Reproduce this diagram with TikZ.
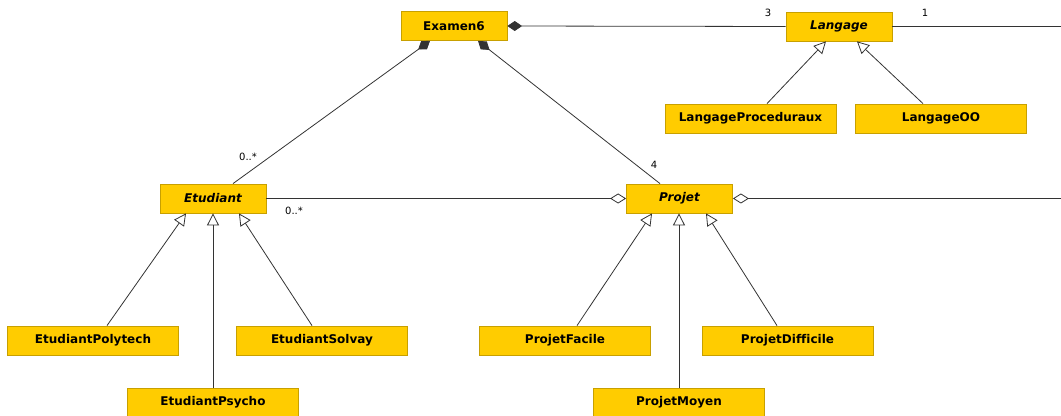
\documentclass[tikz,border=0pt]{standalone}
\usepackage{fontspec}
\setmainfont[Ligatures=NoCommon]{DejaVu Sans}
\usetikzlibrary{positioning}
\usetikzlibrary{calc}
\usetikzlibrary{arrows.meta}
\usetikzlibrary{shadows}
\definecolor{jaune}{RGB}{255,204,0}
\definecolor{bord}{RGB}{200,160,0}

\begin{document}
\begin{tikzpicture}[x=0.75pt,y=-0.75pt,
  classe/.style={draw=bord, fill=jaune, line width=0.6pt, inner sep=0pt,
    minimum height=21.75pt, font=\fontsize{9}{10}\selectfont\bfseries,
    drop shadow={shadow xshift=0.7pt, shadow yshift=-0.7pt, opacity=0.45, fill=black!60}},
  abstraite/.style={classe, font=\fontsize{9}{10}\selectfont\bfseries\itshape},
  petite/.style={minimum width=79.5pt},
  grande/.style={minimum width=128.25pt},
  lien/.style={draw=black!80, line width=0.6pt},
  herite/.style={lien, -{Triangle[open, length=9pt, width=9pt]}},
  compo/.style={lien, {Diamond[length=11pt, width=7.5pt]}-},
  agreg/.style={lien, {Diamond[open, length=12pt, width=7.5pt]}-},
  mult/.style={font=\fontsize{7.5}{8}\selectfont, inner sep=1pt}
]

\useasboundingbox (0,0) rectangle (1061,416);

% right border of the picture
\def\Xbord{1061}

%---------------------------------------
% Classes
%---------------------------------------
\node[classe, petite]    (exam)  at (454,26)    {Examen6};
\node[abstraite, petite] (lang)  at (839,26.5)  {Langage};
\node[classe, grande]    (lproc) at (750.5,118.5) {LangageProceduraux};
\node[classe, grande]    (loo)   at (941,118.5) {LangageOO};

\node[abstraite, petite] (etu)   at (213,198.5) {Etudiant};
\node[abstraite, petite] (proj)  at (679.5,198.5) {Projet};

\node[classe, grande] (epoly) at (93,340.5)  {EtudiantPolytech};
\node[classe, grande] (esolv) at (322,340.5) {EtudiantSolvay};
\node[classe, grande] (epsy)  at (213,402.5) {EtudiantPsycho};

\node[classe, grande] (pfac)  at (565,340.5)   {ProjetFacile};
\node[classe, grande] (pdif)  at (787.5,340.5) {ProjetDifficile};
\node[classe, grande] (pmoy)  at (679,402.5)   {ProjetMoyen};

% free ends on the right border
\coordinate (finL) at (\Xbord,26.5);
\coordinate (finP) at (\Xbord,198.5);

%---------------------------------------
% Compositions and aggregations
%---------------------------------------
\draw[compo] (exam.east) -- (lang.west);
\draw[lien]  (lang.east) -- (finL);
\draw[compo] ($(exam.south)+(-24,0)$) -- ($(etu.north)+(20,0)$);
\draw[compo] ($(exam.south)+(24,0)$) -- ($(proj.north)+(-19.5,0)$);
\draw[agreg] (proj.west) -- (etu.east);
\draw[agreg] (proj.east) -- (finP);

% Multiplicities
\node[mult] (m3)   at (768,13)  {3};
\node[mult] (m1)   at (925,13)  {1};
\node[mult] (metu) at (248,157) {0..*};
\node[mult] (m4)   at (654,165) {4};
\node[mult] (mpro) at (294,211) {0..*};

%---------------------------------------
% Inheritance
%---------------------------------------
\draw[herite] ($(lproc.north)+(16.5,0)$) -- ($(lang.south)+(-13,0)$);
\draw[herite] ($(loo.north)+(-18,0)$) -- ($(lang.south)+(18,0)$);

\draw[herite] ($(epoly.north)+(14,0)$) -- ($(etu.south)+(-27,0)$);
\draw[herite] (epsy.north) -- (etu.south);
\draw[herite] ($(esolv.north)+(-10,0)$) -- ($(etu.south)+(26,0)$);

\draw[herite] ($(pfac.north)+(12,0)$) -- ($(proj.south)+(-27.5,0)$);
\draw[herite] (pmoy.north) -- (pmoy.north |- proj.south);
\draw[herite] ($(pdif.north)+(-10.5,0)$) -- ($(proj.south)+(26.5,0)$);

\end{tikzpicture}
\end{document}
